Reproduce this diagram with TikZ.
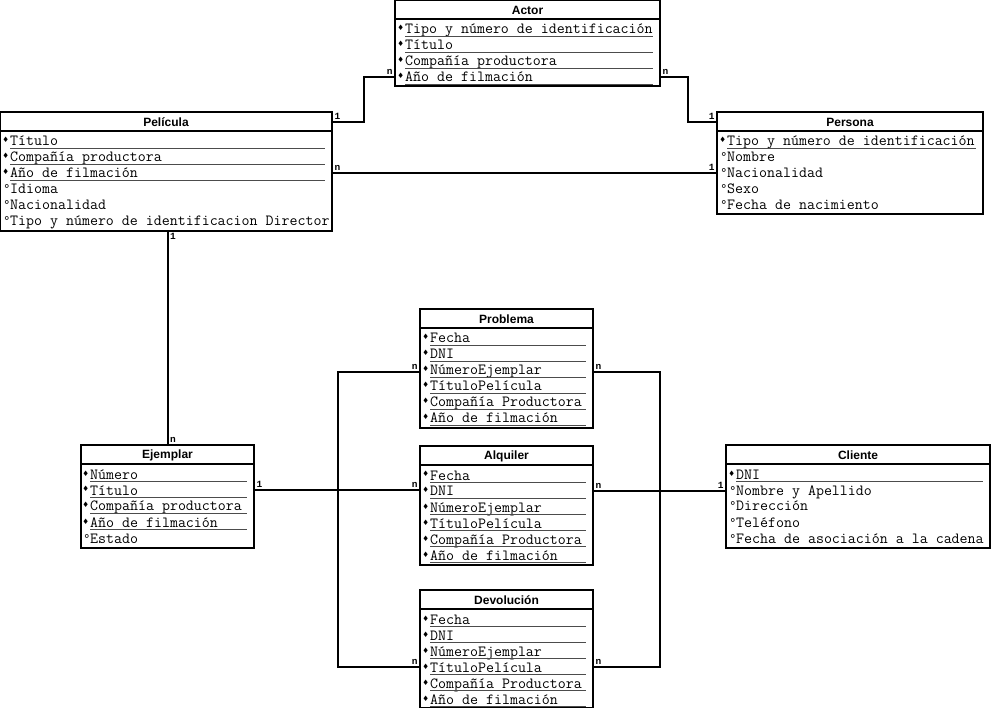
\documentclass[tikz,border=0pt]{standalone}
\usepackage{fontspec}
\setmainfont{Liberation Sans}
\newfontfamily\monofont{Liberation Mono}
\newfontfamily\symfont{DejaVu Sans}
\usetikzlibrary{fit}
% key and plain attribute marks
\newcommand{\kmark}{\llap{\raisebox{3pt}{\symfont\fontsize{7.5}{8}\selectfont ♦}\hspace{1pt}}}
\newcommand{\amark}{\llap{{\symfont\fontsize{12}{12}\selectfont °}\hspace{0.3pt}}}
\begin{document}
\begin{tikzpicture}[x=1pt, y=-1pt,
		box/.style={draw, line width=2pt, inner sep=0pt, outer sep=0pt},
		head/.style={font=\fontsize{12}{14}\selectfont\bfseries, inner sep=0pt},
		row/.style={anchor=base west, inner sep=0pt, font=\fontsize{15.5}{16}\ttfamily},
		mult/.style={font=\fontsize{9.5}{9.5}\monofont\bfseries, inner sep=1.5pt},
		link/.style={line width=2pt},
		bar/.style={line width=1.6pt},
		uline/.style={line width=0.9pt, black!70}]
		\useasboundingbox (0,0) rectangle (991,708);
		% Entities
		\node[box, fit={(395,0) (660,86)}] (Actor) {};
		\node[head] (Actor-head) at ([yshift=-10pt]Actor.north) {Actor};
		\draw[bar] ([yshift=-19pt]Actor.north west) -- ([yshift=-19pt]Actor.north east);
		\node[row] (Actor-1) at (405,34) {\kmark Tipo y número de identificación};
		\node[row] (Actor-2) at (405,50) {\kmark Título};
		\node[row] (Actor-3) at (405,66) {\kmark Compañía productora};
		\node[row] (Actor-4) at (405,82) {\kmark Año de filmación};
		\node[box, fit={(0,112) (332,231)}] (Pelicula) {};
		\node[head] (Pelicula-head) at ([yshift=-10pt]Pelicula.north) {Película};
		\draw[bar] ([yshift=-19pt]Pelicula.north west) -- ([yshift=-19pt]Pelicula.north east);
		\node[row] (Pelicula-1) at (10,146) {\kmark Título};
		\node[row] (Pelicula-2) at (10,162) {\kmark Compañía productora};
		\node[row] (Pelicula-3) at (10,178) {\kmark Año de filmación};
		\node[row] (Pelicula-4) at (10,194) {\amark Idioma};
		\node[row] (Pelicula-5) at (10,210) {\amark Nacionalidad};
		\node[row] (Pelicula-6) at (10,226) {\amark Tipo y número de identificacion Director};
		\node[box, fit={(717,112) (983,214)}] (Persona) {};
		\node[head] (Persona-head) at ([yshift=-10pt]Persona.north) {Persona};
		\draw[bar] ([yshift=-19pt]Persona.north west) -- ([yshift=-19pt]Persona.north east);
		\node[row] (Persona-1) at (727,146) {\kmark Tipo y número de identificación};
		\node[row] (Persona-2) at (727,162) {\amark Nombre};
		\node[row] (Persona-3) at (727,178) {\amark Nacionalidad};
		\node[row] (Persona-4) at (727,194) {\amark Sexo};
		\node[row] (Persona-5) at (727,210) {\amark Fecha de nacimiento};
		\node[box, fit={(81,445) (254,548)}] (Ejemplar) {};
		\node[head] (Ejemplar-head) at ([yshift=-10pt]Ejemplar.north) {Ejemplar};
		\draw[bar] ([yshift=-19pt]Ejemplar.north west) -- ([yshift=-19pt]Ejemplar.north east);
		\node[row] (Ejemplar-1) at (90,479) {\kmark Número};
		\node[row] (Ejemplar-2) at (90,495) {\kmark Título};
		\node[row] (Ejemplar-3) at (90,511) {\kmark Compañía productora};
		\node[row] (Ejemplar-4) at (90,527) {\kmark Año de filmación};
		\node[row] (Ejemplar-5) at (90,543) {\amark Estado};
		\node[box, fit={(420,309) (593,428)}] (Problema) {};
		\node[head] (Problema-head) at ([yshift=-10pt]Problema.north) {Problema};
		\draw[bar] ([yshift=-19pt]Problema.north west) -- ([yshift=-19pt]Problema.north east);
		\node[row] (Problema-1) at (430,343) {\kmark Fecha};
		\node[row] (Problema-2) at (430,359) {\kmark DNI};
		\node[row] (Problema-3) at (430,375) {\kmark NúmeroEjemplar};
		\node[row] (Problema-4) at (430,391) {\kmark TítuloPelícula};
		\node[row] (Problema-5) at (430,407) {\kmark Compañía Productora};
		\node[row] (Problema-6) at (430,423) {\kmark Año de filmación};
		\node[box, fit={(420,446) (593,565)}] (Alquiler) {};
		\node[head] (Alquiler-head) at ([yshift=-10pt]Alquiler.north) {Alquiler};
		\draw[bar] ([yshift=-19pt]Alquiler.north west) -- ([yshift=-19pt]Alquiler.north east);
		\node[row] (Alquiler-1) at (430,480) {\kmark Fecha};
		\node[row] (Alquiler-2) at (430,496) {\kmark DNI};
		\node[row] (Alquiler-3) at (430,512) {\kmark NúmeroEjemplar};
		\node[row] (Alquiler-4) at (430,528) {\kmark TítuloPelícula};
		\node[row] (Alquiler-5) at (430,544) {\kmark Compañía Productora};
		\node[row] (Alquiler-6) at (430,560) {\kmark Año de filmación};
		\node[box, fit={(420,590) (593,708)}] (Devolucion) {};
		\node[head] (Devolucion-head) at ([yshift=-10pt]Devolucion.north) {Devolución};
		\draw[bar] ([yshift=-19pt]Devolucion.north west) -- ([yshift=-19pt]Devolucion.north east);
		\node[row] (Devolucion-1) at (430,624) {\kmark Fecha};
		\node[row] (Devolucion-2) at (430,640) {\kmark DNI};
		\node[row] (Devolucion-3) at (430,656) {\kmark NúmeroEjemplar};
		\node[row] (Devolucion-4) at (430,672) {\kmark TítuloPelícula};
		\node[row] (Devolucion-5) at (430,688) {\kmark Compañía Productora};
		\node[row] (Devolucion-6) at (430,704) {\kmark Año de filmación};
		\node[box, fit={(726,445) (990,548)}] (Cliente) {};
		\node[head] (Cliente-head) at ([yshift=-10pt]Cliente.north) {Cliente};
		\draw[bar] ([yshift=-19pt]Cliente.north west) -- ([yshift=-19pt]Cliente.north east);
		\node[row] (Cliente-1) at (736,479) {\kmark DNI};
		\node[row] (Cliente-2) at (736,495) {\amark Nombre y Apellido};
		\node[row] (Cliente-3) at (736,511) {\amark Dirección};
		\node[row] (Cliente-4) at (736,527) {\amark Teléfono};
		\node[row] (Cliente-5) at (736,543) {\amark Fecha de asociación a la cadena};
		% Key underlines
		\foreach \e/\n in {Actor/4, Pelicula/3, Persona/1, Ejemplar/4, Problema/6, Alquiler/6, Devolucion/6, Cliente/1}
			\foreach \i in {1,...,\n}
				\draw[uline] ([yshift=-2.5pt]\e-\i.base west) -- ([xshift=-7pt, yshift=-2.5pt]\e-\i.base west -| \e.east);
		% Connectors
		\coordinate (left bus) at (338,0);
		\coordinate (right bus) at (660,0);
		\draw[link] (Pelicula-head -| Pelicula.east) -- node[mult, at start, above right] {1} ++(32,0) |- node[mult, at end, above left] {n} (Actor-4 -| Actor.west);
		\draw[link] (Actor-4 -| Actor.east) -- node[mult, at start, above right] {n} ++(28,0) |- node[mult, at end, above left] {1} (Persona-head -| Persona.west);
		\draw[link] (Pelicula-3 -| Pelicula.east) -- node[mult, at start, above right] {n} node[mult, at end, above left] {1} (Pelicula-3 -| Persona.west);
		\draw[link] (Ejemplar.north |- Pelicula.south) -- node[mult, at start, below right] {1} node[mult, at end, above right] {n} (Ejemplar.north);
		\draw[link] (Ejemplar-2 -| Ejemplar.east) -- node[mult, at start, above right] {1} node[mult, at end, above left] {n} (Ejemplar-2 -| Alquiler.west);
		\draw[link] (Problema-3 -| Problema.west) -- node[mult, at start, above left] {n} (Problema-3 -| left bus) -- (Devolucion-4 -| left bus) -- node[mult, at end, above left] {n} (Devolucion-4 -| Devolucion.west);
		\draw[link] (Problema-3 -| Problema.east) -- node[mult, at start, above right] {n} (Problema-3 -| right bus) -- (Devolucion-4 -| right bus) -- node[mult, at end, above right] {n} (Devolucion-4 -| Devolucion.east);
		\draw[link] (Alquiler-2 -| Alquiler.east) -- node[mult, at start, above right] {n} node[mult, at end, above left] {1} (Alquiler-2 -| Cliente.west);
	\end{tikzpicture}
\end{document}
